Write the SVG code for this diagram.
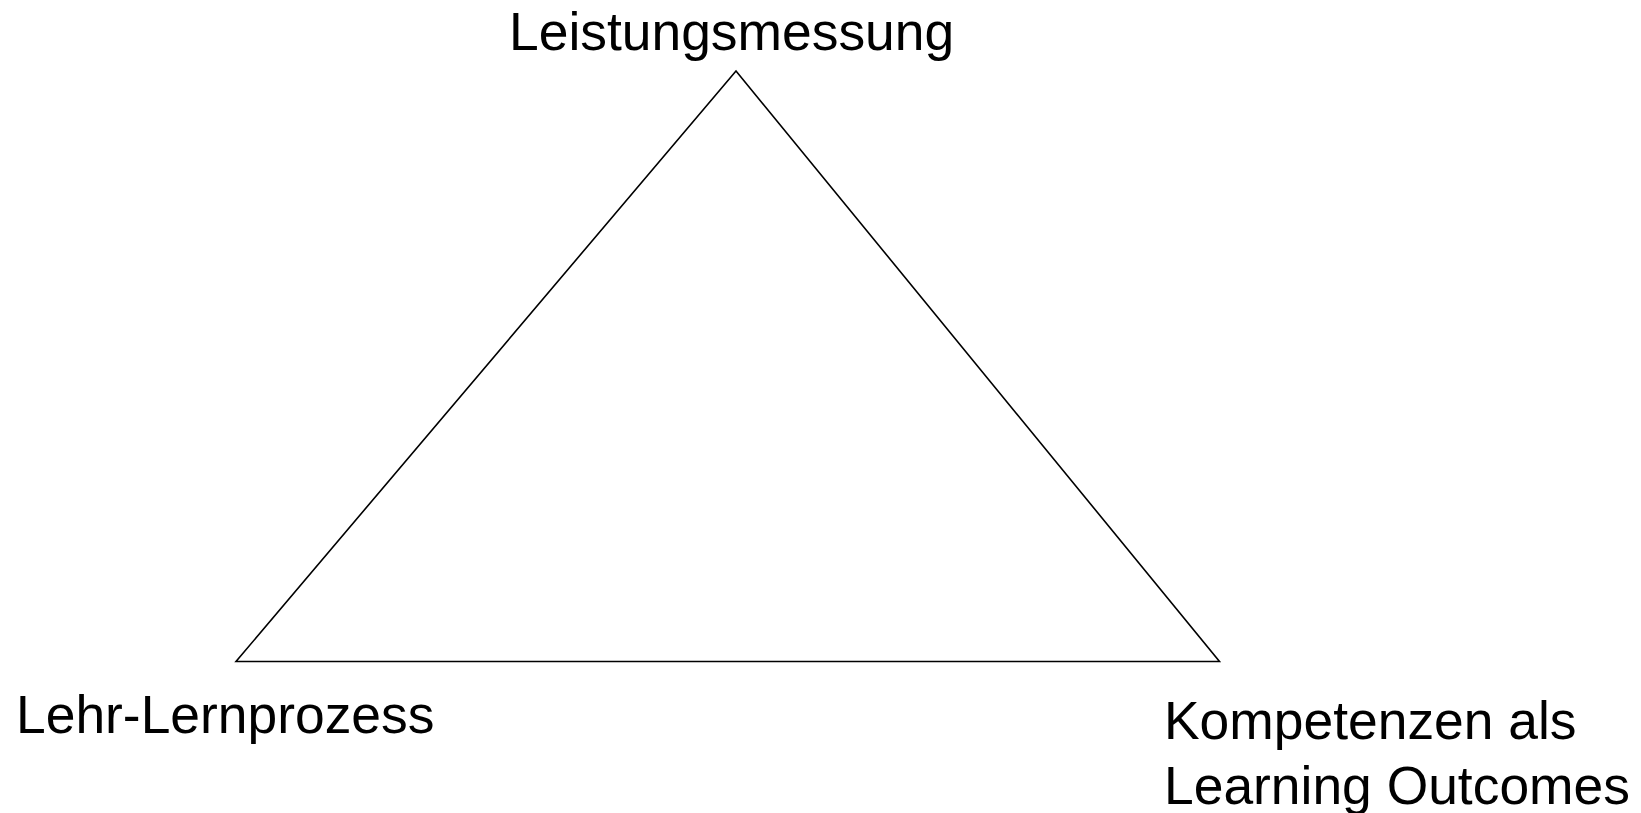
<svg xmlns="http://www.w3.org/2000/svg" width="1641" height="813" viewBox="0 0 1641 813">
<style>
text{font-family:"Liberation Sans",Arial,sans-serif;font-size:53.4px;fill:#000}
.edge{fill:none;stroke:#000;stroke-width:1.6}
</style>
<rect width="1641" height="813" fill="#fff"/>
<g id="connectors">
<polygon class="edge" points="736,71 236,661.5 1219.5,661.5"/>
</g>
<g id="node-leistungsmessung"><text x="509" y="50">Leistungsmessung</text></g>
<g id="node-lehr-lernprozess"><text x="16" y="733">Lehr-Lernprozess</text></g>
<g id="node-kompetenzen"><text x="1164" y="739">Kompetenzen als</text><text x="1164" y="804">Learning Outcomes</text></g>
</svg>
